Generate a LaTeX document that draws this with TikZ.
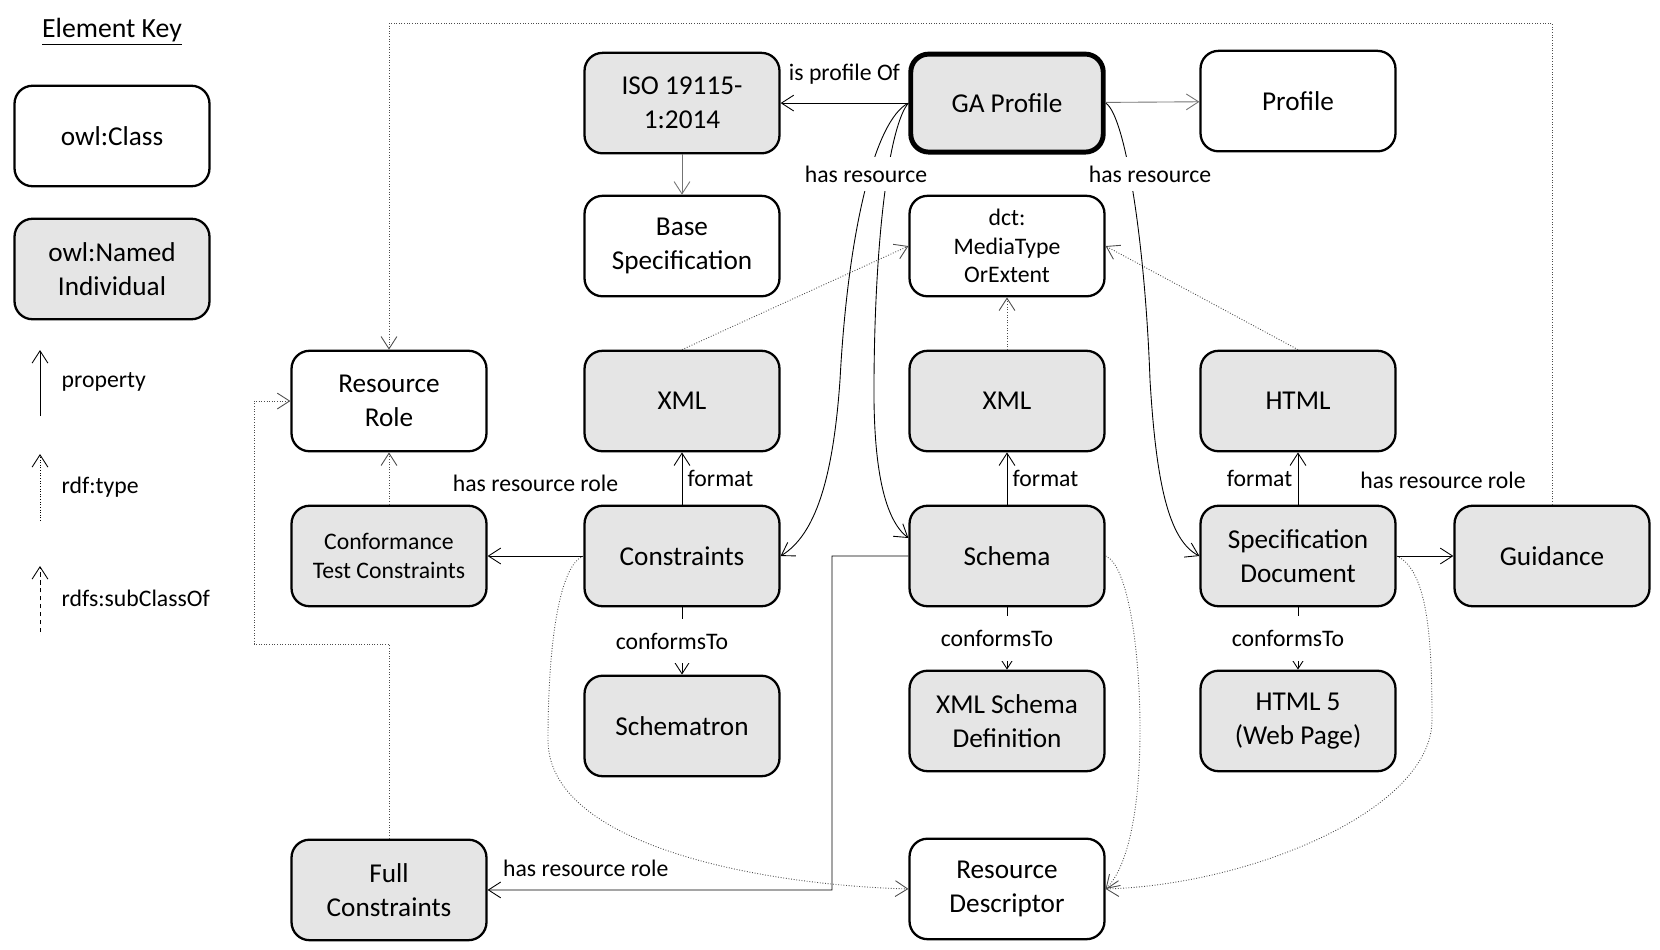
\documentclass[tikz,border=0pt]{standalone}
\usepackage{fontspec}
\setmainfont{Carlito}
\usetikzlibrary{arrows.meta}
\usetikzlibrary{positioning}

\begin{document}
\begin{tikzpicture}[->,>={Straight Barb[length=7pt,width=9pt]},x=0.02cm,y=-0.02cm,
			node distance=3.1cm,line width=0.5pt,
			cls/.style={draw,rounded corners=0.36cm,line width=1.3pt,minimum width=3.9cm,
				minimum height=2.01cm,align=center,font=\fontsize{15.5}{19.3}\selectfont},
			ind/.style={cls,fill=black!10},
			small/.style={font=\fontsize{13.5}{16.3}\selectfont},
			lbl/.style={font=\fontsize{13.5}{16}\selectfont,inner sep=3pt},
			gap/.style={lbl,fill=white,inner ysep=8pt},
			typeof/.style={densely dotted,draw=black!70},
			subcls/.style={dash pattern=on 2.5pt off 2pt}]
			\useasboundingbox (0,0) rectangle (1660,950);
			
			% key
			\node[font=\fontsize{15.8}{19}\selectfont] (key) at (112,32) {\underline{Element Key}};
			\node[cls] (kcls) at (112,136) {owl:Class};
			\node[ind] (kind) at (112,269) {owl:Named\\Individual};
			\node[lbl,anchor=west] (kprop) at (56,382) {property};
			\node[lbl,anchor=west] (ktype) at (56,487) {rdf:type};
			\node[lbl,anchor=west] (ksub) at (56,598) {rdfs:subClassOf};
			\coordinate (kp0) at (40,416); \coordinate (kp1) at (40,350);
			\coordinate (kt0) at (40,521); \coordinate (kt1) at (40,454);
			\coordinate (ks0) at (40,632); \coordinate (ks1) at (40,566);
			\draw (kp0) -- (kp1);
			\draw[densely dotted] (kt0) -- (kt1);
			\draw[subcls] (ks0) -- (ks1);
			
			% middle row
			\node[ind,small] (CTC) at (389,556) {Conformance\\Test Constraints};
			\node[ind] (Cons) at (682,556) {Constraints};
			\node[ind] (Schema) at (1007,556) {Schema};
			\node[ind] (SpecDoc) at (1298,556) {Specification\\Document};
			\node[ind] (Guidance) at (1552,556) {Guidance};
			
			\node[cls, above of=CTC] (RR) {Resource\\Role};
			\node[ind, above of=Cons] (XMLb) {XML};
			\node[ind, above of=Schema] (XMLc) {XML};
			\node[ind, above of=SpecDoc] (HTML) {HTML};
			\node[cls, above of=XMLb] (Base) {Base\\Specification};
			\node[cls, small, above of=XMLc] (dct) {dct:\\MediaType\\OrExtent};
			\node[ind, node distance=2.86cm, above of=Base] (ISO) {ISO 19115-\\1:2014};
			\node[ind, line width=2.8pt, minimum width=3.85cm, minimum height=1.96cm,
				node distance=2.86cm, above of=dct] (GA) {GA Profile};
			\node[cls, node distance=6cm, above of=HTML] (Profile) {Profile};
			
			\node[ind, node distance=3.4cm, below of=Cons] (Schematron) {Schematron};
			\node[ind, node distance=3.3cm, below of=Schema] (XSD) {XML Schema\\Definition};
			\node[ind, node distance=3.3cm, below of=SpecDoc] (HTML5) {HTML 5\\(Web Page)};
			\node[ind, node distance=6.68cm, below of=CTC] (FC) {Full\\Constraints};
			\node[cls, node distance=3.36cm, below of=XSD] (RD) {Resource\\Descriptor};
			
			\path
			(GA) edge node[lbl,yshift=0.58cm] {is profile Of} (ISO)
				edge [draw=black!55] (Profile)
			(ISO) edge [draw=black!55] (Base)
			(XMLb.north) edge [typeof] (dct.west)
			(XMLc) edge [typeof] (dct)
			(HTML.north) edge [typeof] (dct.east)
			(Cons) edge node[lbl,right] {format} (XMLb)
				edge node[gap,xshift=-0.2cm] {conformsTo} (Schematron)
				edge node[lbl,yshift=1.46cm] {has resource role} (CTC)
			(Schema) edge node[lbl,right] {format} (XMLc)
				edge node[gap,xshift=-0.2cm] {conformsTo} (XSD)
			(SpecDoc) edge node[lbl,left] {format} (HTML)
				edge node[gap,xshift=-0.2cm] {conformsTo} (HTML5)
				edge node[lbl,xshift=0.36cm,yshift=1.52cm] {has resource role} (Guidance)
			(CTC) edge [typeof] (RR)
			;
			
			% has resource
			\draw (GA.west) .. controls (890,125) and (875,230) .. (874,380)
				.. controls (873,470) and (885,520) .. ([yshift=0.36cm]Schema.west);
			\draw (GA.west) .. controls (875,120) and (848,230) .. (840,380)
				.. controls (833,480) and (815,535) .. (Cons.east)
				node[gap,inner ysep=5pt] at (866,174) {has resource};
			\draw (GA.east) .. controls (1125,115) and (1145,240) .. (1150,380)
				.. controls (1156,480) and (1168,540) .. (SpecDoc.west)
				node[gap,inner ysep=5pt] at (1150,174) {has resource};
			
			% resource descriptor
			\draw[typeof] (Cons.west) .. controls (560,565) and (548,640) .. (548,740)
				.. controls (548,845) and (760,885) .. (RD.west);
			\draw[typeof] (Schema.east) .. controls (1128,565) and (1140,650) .. (1140,730)
				.. controls (1140,820) and (1125,870) .. (RD.east);
			\draw[typeof] (SpecDoc.east) .. controls (1428,570) and (1432,640) .. (1432,720)
				.. controls (1432,810) and (1250,885) .. (RD.east);
			
			% resource role
			\draw[typeof] (FC.north) |- (254,644) |- (RR.west);
			\draw[typeof] (Guidance.north) |- (389,23) -- (RR.north);
			\draw (Schema.west) -| (832,890) -- (FC.east)
				node[lbl,pos=0.715,above=0.15cm] {has resource role};
\end{tikzpicture}
\end{document}
